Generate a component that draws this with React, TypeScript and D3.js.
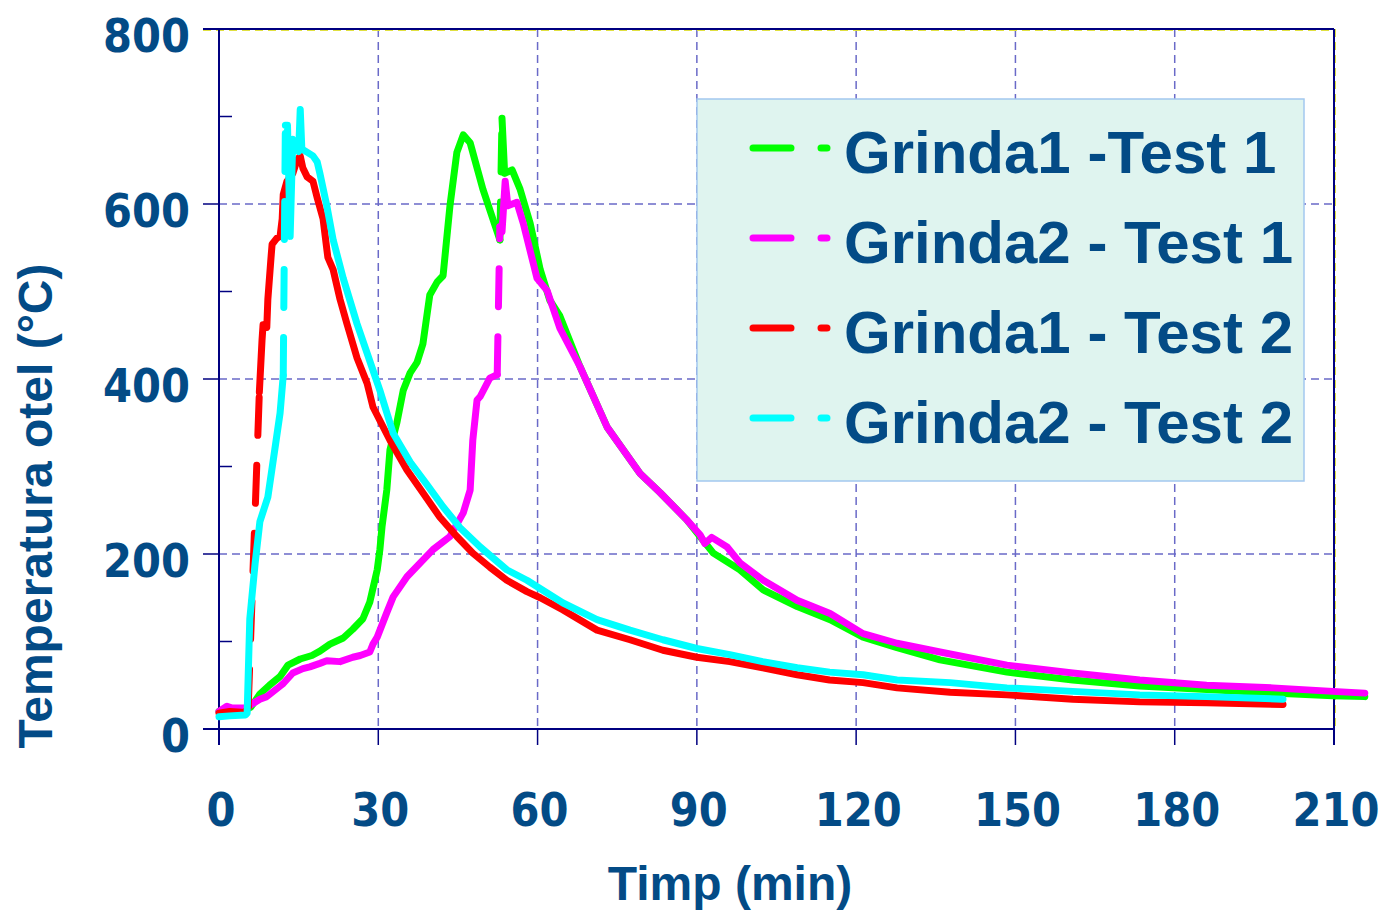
import * as d3 from "d3";

// time (min) / steel temperature (°C)
const g1t1Time = [0, 5, 6, 7.7, 9.5, 11.5, 13.0, 15.3, 17.5, 19.0, 20.9, 23.4, 25.2, 27.1, 28.4, 29.8, 30.3, 30.7, 31.6, 32.2, 33.5, 34.7, 36.0, 37.3, 38.4, 39.7, 41.1, 42.2, 43.5, 44.8, 46.0, 47.3, 49.7, 52.4, 52.9, 53.3, 53.8, 55.2, 56.7, 58.6, 60.5, 62.3, 64.2, 68.0, 73.1, 79.3, 83.1, 88.1, 90.6, 93.1, 98.1, 102.5, 108.9, 115.1, 121.3, 127.7, 135.8, 148.4, 160.8, 173.4, 186.0, 198.5, 209.8, 215.8];
const g1t1Temp = [20, 22, 25, 40, 50, 60, 73, 80, 84, 89, 97, 104, 114, 126, 145, 182, 205, 231, 273, 319, 350, 387, 407, 419, 440, 496, 511, 518, 598, 659, 679, 670, 617, 568, 559, 698, 635, 639, 617, 578, 525, 490, 472, 414, 345, 292, 270, 239, 220, 201, 182, 159, 140, 125, 105, 93, 79, 65, 56, 49, 45, 41, 38, 37];

const g2t1Time = [0, 1.5, 2.5, 5.0, 7.7, 9.0, 11.5, 12.1, 13.9, 15.8, 17.1, 19.0, 20.3, 22.8, 25.2, 26.6, 28.4, 29.0, 29.8, 31.6, 32.8, 35.4, 38.4, 40.3, 43.5, 46.0, 47.3, 47.8, 48.6, 49.2, 51.0, 52.4, 52.9, 53.3, 53.9, 54.4, 56.1, 57.3, 59.9, 61.8, 64.2, 68.0, 73.1, 79.3, 83.1, 88.1, 90.6, 91.5, 92.8, 95.7, 98.1, 102.5, 108.9, 115.1, 121.3, 127.7, 135.8, 148.4, 160.8, 173.4, 186.0, 198.5, 209.8, 215.8];
const g2t1Temp = [20, 26, 24, 24, 34, 37, 49, 52, 64, 69, 71, 75, 78, 77, 82, 84, 88, 97, 105, 133, 151, 174, 193, 205, 220, 247, 273, 330, 376, 380, 401, 405, 574, 568, 626, 598, 602, 578, 515, 501, 458, 414, 345, 292, 270, 239, 222, 212, 219, 208, 190, 170, 147, 132, 109, 98, 88, 73, 64, 56, 50, 47, 43, 41];

const g1t2Time = [0, 2, 5.0, 5.5, 7.6, 8.1, 8.3, 9.0, 9.2, 9.8, 10.0, 10.9, 11.5, 11.9, 12.1, 12.8, 13.9, 14.7, 15.3, 15.8, 16.6, 17.7, 18.5, 19.6, 20.5, 21.5, 22.8, 24.1, 26.0, 27.9, 29.0, 32.2, 35.4, 38.4, 41.6, 44.8, 47.8, 51.0, 54.2, 58.0, 60.5, 64.8, 71.2, 77.4, 83.6, 90.0, 96.2, 102.4, 108.9, 115.0, 121.3, 127.7, 137.7, 148.4, 160.8, 173.4, 186.0, 200.4];
const g1t2Temp = [18, 20, 19, 25, 385, 444, 462, 459, 491, 539, 554, 561, 563, 583, 611, 626, 635, 650, 655, 641, 631, 626, 607, 583, 539, 525, 491, 463, 424, 395, 368, 330, 296, 270, 242, 220, 201, 185, 170, 157, 150, 136, 113, 102, 90, 82, 77, 70, 62, 56, 53, 47, 42, 39, 34, 31, 30, 28];

const g2t2Time = [0, 2, 5.0, 5.3, 5.8, 6.8, 7.7, 9.2, 10.5, 11.5, 12.1, 12.5, 12.9, 13.4, 13.9, 15.0, 15.3, 15.6, 17.7, 18.5, 19.0, 20.3, 21.5, 23.4, 26.0, 29.0, 30.3, 32.8, 36.0, 39.2, 42.2, 45.4, 49.2, 54.2, 58.0, 64.8, 71.2, 77.4, 83.6, 90.0, 96.2, 102.4, 108.9, 115.0, 121.3, 127.7, 137.7, 148.4, 160.8, 173.4, 186.0, 200.4];
const g2t2Temp = [14, 15, 16, 18, 126, 189, 237, 265, 319, 361, 404, 690, 690, 563, 674, 660, 708, 663, 655, 648, 635, 598, 559, 515, 463, 410, 387, 338, 305, 279, 254, 230, 208, 182, 170, 144, 125, 113, 102, 92, 85, 77, 70, 65, 62, 56, 53, 47, 43, 39, 37, 34];

const seriesNames = ["Grinda1 -Test 1", "Grinda2 - Test 1", "Grinda1 - Test 2", "Grinda2 - Test 2"];
const seriesColors = ["#00ff00", "#ff00ff", "#ff0000", "#00ffff"];
const xTicks = [0, 30, 60, 90, 120, 150, 180, 210];
const yTicks = [0, 200, 400, 600, 800];
const yMinorTicks = [100, 300, 500, 700];

const W = 1390;
const H = 914;
const navy = "#000080";
const textBlue = "#034b86";
const gridColor = "#6a6ac8";
const LW = 7;
const DASH = "38 30"; // ~45 on / 23 off once the round caps are added

const x = d3.scaleLinear().domain([0, 210]).range([219, 1334]);
const y = d3.scaleLinear().domain([0, 800]).range([729, 29]);

type Pt = [number, number];

// split a series into solid runs and long steep jumps (Excel restarts the dash on each segment)
function pieces(time: number[], temp: number[]) {
  const pts: Pt[] = time.map((t, i) => [x(t), y(temp[i])]);
  const out: { pts: Pt[]; dashed: boolean }[] = [];
  let run: Pt[] = [pts[0]];
  for (let i = 1; i < pts.length; i++) {
    const a = pts[i - 1], b = pts[i];
    const len = Math.hypot(b[0] - a[0], b[1] - a[1]);
    if (len > 116) {
      if (run.length > 1) out.push({ pts: run, dashed: false });
      out.push({ pts: [a, b], dashed: true });
      run = [b];
    } else {
      run.push(b);
    }
  }
  if (run.length > 1) out.push({ pts: run, dashed: false });
  return out;
}

const line = d3.line<Pt>().x((d) => d[0]).y((d) => d[1]);

export default function App() {
  const all = [
    pieces(g1t1Time, g1t1Temp),
    pieces(g2t1Time, g2t1Temp),
    pieces(g1t2Time, g1t2Temp),
    pieces(g2t2Time, g2t2Temp),
  ];

  return (
    <svg width={W} height={H} style={{ position: "absolute", left: 0, top: 0, background: "#fff" }}>
      {/* grid */}
      {xTicks.slice(1, -1).map((t) => (
        <line key={"gx" + t} x1={x(t)} x2={x(t)} y1={y(800)} y2={y(0)} stroke={gridColor} strokeWidth={1.5} strokeDasharray="8 5" />
      ))}
      {yTicks.slice(1, -1).map((v) => (
        <line key={"gy" + v} x1={x(0)} x2={x(210)} y1={y(v)} y2={y(v)} stroke={gridColor} strokeWidth={1.5} strokeDasharray="8 5" />
      ))}

      {/* frame */}
      <line x1={203} x2={x(210)} y1={y(800) + 1.5} y2={y(800) + 1.5} stroke="#e0e040" strokeWidth={1} strokeDasharray="8 5" />
      <line x1={x(210) + 1.5} x2={x(210) + 1.5} y1={y(800)} y2={y(0)} stroke="#e0e040" strokeWidth={1} strokeDasharray="8 5" />
      <line x1={203} x2={x(210)} y1={y(800)} y2={y(800)} stroke={navy} strokeWidth={2} />
      <line x1={x(210)} x2={x(210)} y1={y(800)} y2={y(0) + 16} stroke={navy} strokeWidth={2} />
      <line x1={203} x2={x(210)} y1={y(0)} y2={y(0)} stroke={navy} strokeWidth={2} />
      <line x1={x(0)} x2={x(0)} y1={y(800)} y2={y(0) + 16} stroke={navy} strokeWidth={2} />
      {yTicks.map((v) => (
        <line key={"ty" + v} x1={203} x2={x(0)} y1={y(v)} y2={y(v)} stroke={navy} strokeWidth={1.5} />
      ))}
      {yMinorTicks.map((v) => (
        <line key={"tm" + v} x1={x(0)} x2={x(0) + 13} y1={y(v)} y2={y(v)} stroke={navy} strokeWidth={1.5} />
      ))}
      {xTicks.map((t) => (
        <line key={"tx" + t} x1={x(t)} x2={x(t)} y1={y(0)} y2={y(0) + 16} stroke={navy} strokeWidth={1.5} />
      ))}

      {/* tick labels */}
      {yTicks.map((v) => (
        <text key={"ly" + v} x={190} y={y(v) + 23} textAnchor="end" fontFamily="DejaVu Sans" fontWeight="bold" fontSize={47}
          fill={textBlue} textLength={String(v).length * 29} lengthAdjust="spacingAndGlyphs">{v}</text>
      ))}
      {xTicks.map((t) => (
        <text key={"lx" + t} x={x(t) + 2} y={826} textAnchor="middle" fontFamily="DejaVu Sans" fontWeight="bold" fontSize={47}
          fill={textBlue} textLength={String(t).length * 29} lengthAdjust="spacingAndGlyphs">{t}</text>
      ))}

      {/* axis titles */}
      <text x={730} y={900} textAnchor="middle" fontFamily="Liberation Sans, Arial, sans-serif" fontWeight="bold" fontSize={48} fill={textBlue}>Timp (min)</text>
      <text transform="translate(52,506) rotate(-90)" textAnchor="middle" fontFamily="Liberation Sans, Arial, sans-serif" fontWeight="bold" fontSize={48} fill={textBlue}>Temperatura otel (°C)</text>

      {/* series */}
      {all.map((ps, si) => (
        <g key={"s" + si}>
          {ps.map((p, pi) => (
            <path key={pi} d={line(p.pts) || ""} fill="none" stroke={seriesColors[si]} strokeWidth={LW}
              strokeLinejoin="round" strokeLinecap="round" strokeDasharray={p.dashed ? DASH : undefined} />
          ))}
        </g>
      ))}

      {/* legend */}
      <rect x={697} y={99} width={607} height={382} fill="#dff4ef" stroke="#a3c8ef" strokeWidth={1.5} />
      {seriesNames.map((n, i) => (
        <g key={"lg" + i}>
          <line x1={753} x2={827} y1={148 + i * 90} y2={148 + i * 90} stroke={seriesColors[i]} strokeWidth={LW}
            strokeLinecap="round" strokeDasharray={DASH} />
          <text x={844} y={173 + i * 90} fontFamily="Liberation Sans, Arial, sans-serif" fontWeight="bold" fontSize={60} fill={textBlue}>{n}</text>
        </g>
      ))}
    </svg>
  );
}
